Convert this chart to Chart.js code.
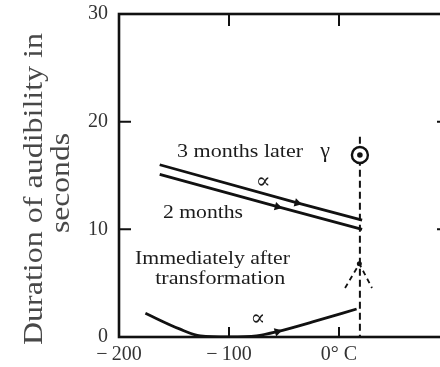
<!DOCTYPE html>
<html>
<head>
<meta charset="utf-8">
<script src="https://cdn.jsdelivr.net/npm/chart.js@4"></script>
<style>
  html, body { margin: 0; padding: 0; background: #fff; overflow: hidden; }
  canvas { display: block; }
</style>
</head>
<body>
<canvas id="chart" width="460" height="367"></canvas>
<script>
// temperature in °C against duration of audibility in seconds
const xTicks = [-200, -100, 0];
const yTicks = [0, 10, 20, 30];

const threeMonthsX = [-163, -38, 21];
const threeMonthsY = [16.0, 12.45, 10.85];
const twoMonthsX = [-163, -56, 21];
const twoMonthsY = [15.1, 12.1, 10.0];
const immediateX = [-176, -145, -126, -100, -75, -56, -24, 16];
const immediateY = [2.2, 0.75, 0.1, 0, 0.1, 0.5, 1.4, 2.6];

// transition point (gamma) and the dashed marks below it
const transitionX = [19, 19];
const transitionY = [18.6, 0];
const gammaX = [19];
const gammaY = [16.9];
const wedgeX = [5.5, 18.5, 30];
const wedgeY = [4.55, 6.8, 4.55];

const pts = (xs, ys) => xs.map((x, i) => ({ x: x, y: ys[i] }));
const ink = '#111';

// text written inside the plot, placed in data units
const notes = [
  { text: '3 months later', x: -90, y: 17.2, w: 126 },
  { text: 'γ', x: -12.7, y: 17.3 },
  { text: '∝', x: -69, y: 14.4 },
  { text: '2 months', x: -123.6, y: 11.5, w: 80 },
  { text: 'Immediately after', x: -115, y: 7.2, w: 155 },
  { text: 'transformation', x: -108, y: 5.4, w: 130 },
  { text: '∝', x: -73.6, y: 1.65 }
];

function drawFit(ctx, text, x, y, width) {
  const m = ctx.measureText(text).width;
  const sx = width ? width / m : 1;
  ctx.save();
  ctx.translate(x, y);
  ctx.scale(sx, 1);
  ctx.fillText(text, 0, 0);
  ctx.restore();
}

const framePlugin = {
  id: 'frame',
  afterDatasetsDraw(chart) {
    const ctx = chart.ctx;
    const a = chart.chartArea;
    const xs = chart.scales.x;
    const ys = chart.scales.y;
    ctx.save();
    ctx.strokeStyle = ink;
    ctx.lineWidth = 2.6;
    ctx.strokeRect(a.left, a.top, a.right - a.left, a.bottom - a.top);

    // ticks point inward on every side
    ctx.lineWidth = 2;
    ctx.beginPath();
    xTicks.forEach(v => {
      if (v === xs.min) return;
      const px = xs.getPixelForValue(v);
      ctx.moveTo(px, a.top); ctx.lineTo(px, a.top + 12);
      ctx.moveTo(px, a.bottom); ctx.lineTo(px, a.bottom - 10);
    });
    yTicks.forEach(v => {
      if (v === ys.min || v === ys.max) return;
      const py = ys.getPixelForValue(v);
      ctx.moveTo(a.left, py); ctx.lineTo(a.left + 12, py);
      ctx.moveTo(a.right, py); ctx.lineTo(a.right - 12, py);
    });
    ctx.stroke();

    // notes
    ctx.fillStyle = '#1c1c1c';
    ctx.textAlign = 'center';
    ctx.textBaseline = 'middle';
    notes.forEach(n => {
      ctx.font = (n.w ? '18px' : '22px') + ' "Liberation Serif", "DejaVu Serif", serif';
      drawFit(ctx, n.text, xs.getPixelForValue(n.x), ys.getPixelForValue(n.y), n.w);
    });

    // y axis title, two lines
    ctx.fillStyle = '#484848';
    ctx.font = '27px "Liberation Serif", serif';
    ctx.save();
    ctx.translate(a.left - 84, 189);
    ctx.rotate(-Math.PI / 2);
    drawFit(ctx, 'Duration of audibility in', 0, 0, 312);
    ctx.restore();
    ctx.save();
    ctx.translate(a.left - 57, 183);
    ctx.rotate(-Math.PI / 2);
    drawFit(ctx, 'seconds', 0, 0, 100);
    ctx.restore();
    ctx.restore();
  }
};

new Chart(document.getElementById('chart'), {
  type: 'scatter',
  data: {
    datasets: [
      {
        data: pts(gammaX, gammaY),
        pointRadius: 2.8,
        pointBackgroundColor: ink,
        pointBorderWidth: 0,
        order: 0
      },
      {
        data: pts(gammaX, gammaY),
        pointRadius: 8,
        pointBackgroundColor: '#fff',
        pointBorderColor: ink,
        pointBorderWidth: 2.4,
        order: 1
      },
      {
        data: pts(threeMonthsX, threeMonthsY),
        showLine: true,
        borderColor: ink,
        borderWidth: 2.8,
        pointStyle: 'triangle',
        rotation: 105,
        pointRadius: [0, 5, 0],
        pointBackgroundColor: ink,
        pointBorderWidth: 0,
        order: 2
      },
      {
        data: pts(twoMonthsX, twoMonthsY),
        showLine: true,
        borderColor: ink,
        borderWidth: 2.8,
        pointStyle: 'triangle',
        rotation: 105,
        pointRadius: [0, 5, 0],
        pointBackgroundColor: ink,
        pointBorderWidth: 0,
        order: 2
      },
      {
        data: pts(immediateX, immediateY),
        showLine: true,
        borderColor: ink,
        borderWidth: 2.8,
        tension: 0.4,
        cubicInterpolationMode: 'monotone',
        pointStyle: 'triangle',
        rotation: 74,
        pointRadius: [0, 0, 0, 0, 0, 5, 0, 0],
        pointBackgroundColor: ink,
        pointBorderWidth: 0,
        order: 2
      },
      {
        data: pts(transitionX, transitionY),
        showLine: true,
        borderColor: ink,
        borderWidth: 2,
        borderDash: [7, 4],
        pointRadius: 0,
        order: 5
      },
      {
        data: pts(wedgeX, wedgeY),
        showLine: true,
        borderColor: ink,
        borderWidth: 1.8,
        borderDash: [5, 4],
        pointRadius: [0, 2.5, 0],
        pointBackgroundColor: ink,
        pointBorderWidth: 0,
        order: 5
      }
    ]
  },
  options: {
    responsive: false,
    animation: false,
    layout: { padding: { top: 14, right: 11, left: 0, bottom: 0 } },
    plugins: { legend: { display: false }, tooltip: { enabled: false } },
    scales: {
      x: {
        type: 'linear',
        min: -200,
        max: 100,
        afterBuildTicks: s => { s.ticks = xTicks.map(v => ({ value: v })); },
        afterFit: s => { s.height = 30; s.paddingLeft = 0; s.paddingRight = 0; },
        grid: { display: false, drawTicks: false },
        border: { display: false },
        ticks: {
          autoSkip: false,
          maxRotation: 0,
          padding: 6,
          color: '#333',
          font: { family: 'Liberation Serif', size: 20 },
          callback: v => v === 0 ? '0° C' : (v < 0 ? '−\u2009' + Math.abs(v) : String(v))
        }
      },
      y: {
        min: 0,
        max: 30,
        afterBuildTicks: s => { s.ticks = yTicks.map(v => ({ value: v })); },
        afterFit: s => { s.width = 119; s.paddingTop = 0; s.paddingBottom = 0; },
        grid: { display: false, drawTicks: false },
        border: { display: false },
        ticks: {
          padding: 11,
          color: '#333',
          font: { family: 'Liberation Serif', size: 20 }
        }
      }
    }
  },
  plugins: [framePlugin]
});
</script>
</body>
</html>
